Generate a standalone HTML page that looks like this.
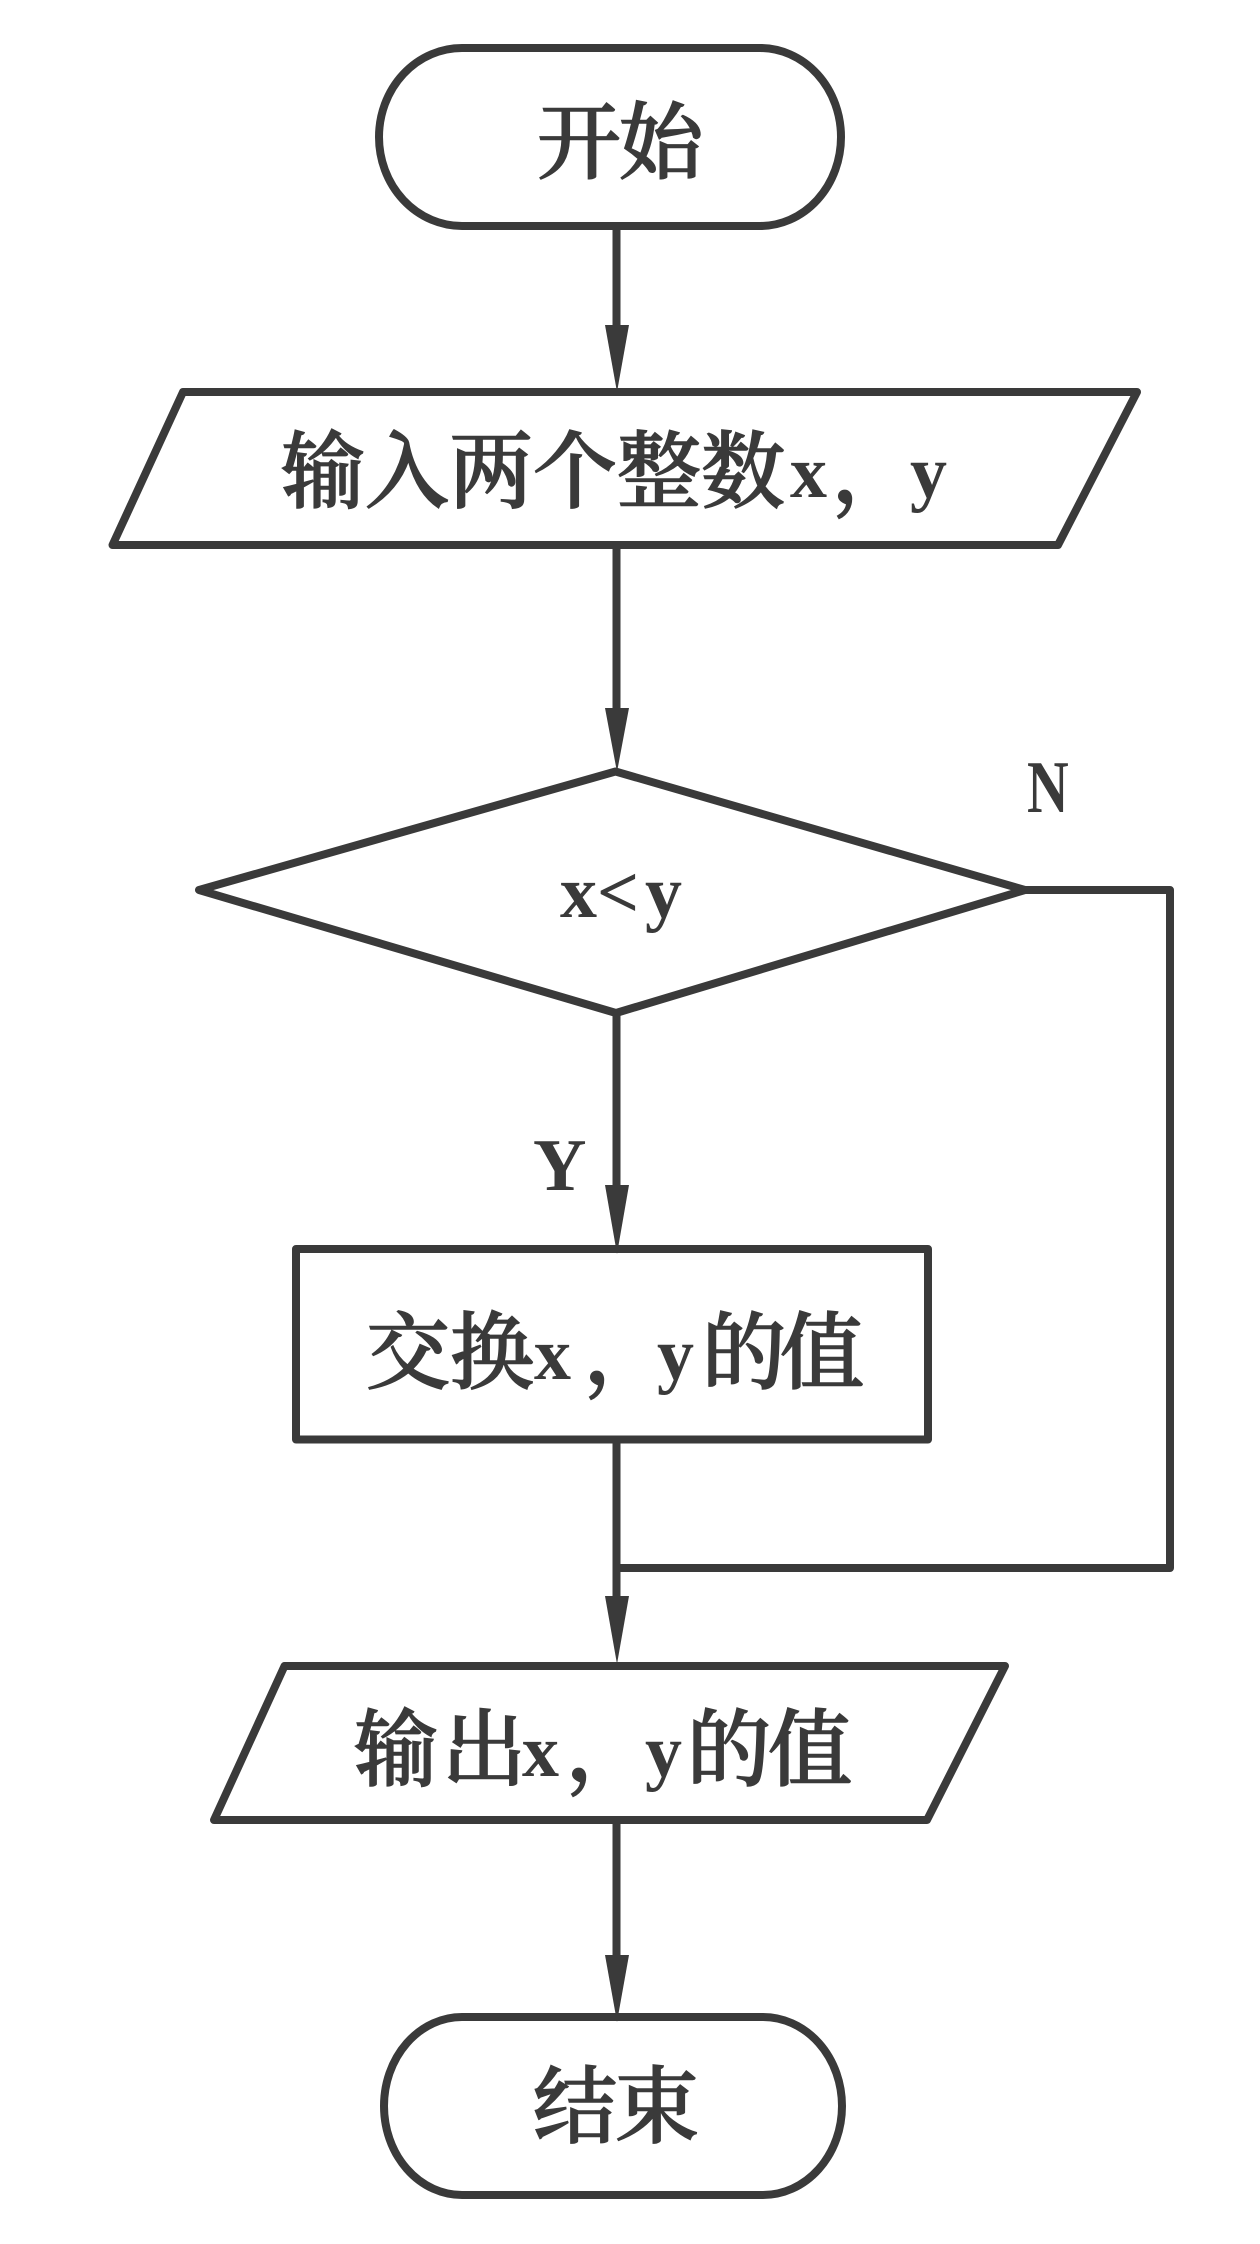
<!DOCTYPE html>
<html><head><meta charset="utf-8"><style>
html,body{margin:0;padding:0;background:#fff}
svg{display:block}
.c{font-family:"Liberation Serif","Noto Serif CJK SC",serif;font-size:84px;font-weight:500;fill:#3a3a3a;stroke:#3a3a3a;stroke-width:1.6}
.l{font-family:"Liberation Serif",serif;font-size:74px;font-weight:700;fill:#3a3a3a}
</style></head><body>
<svg width="1260" height="2244" viewBox="0 0 1260 2244" xmlns="http://www.w3.org/2000/svg">
<rect width="1260" height="2244" fill="#fff"/>
<g fill="none" stroke="#3a3a3a" stroke-width="8" stroke-linejoin="round" stroke-linecap="round">
<path d="M462 48H760A81 89 0 0 1 760 226H462A83 89 0 0 1 462 48Z"/>
<path d="M183 392H1137L1058 545H112.500Z"/>
<path d="M615.500 771.500L1025 890L616 1013L199 890Z"/>
<rect x="296" y="1249" width="632" height="190.500"/>
<path d="M284.500 1666H1005L927 1820H214Z"/>
<path d="M462 2017H763A79 89 0 0 1 763 2195H462A78 89 0 0 1 462 2017Z"/>
<path d="M1025 890H1170V1568H617"/>
<path d="M616.500 226V330M616.500 545V712M616.500 1013V1190M616.500 1440V1600M616.500 1820V1960" stroke-linecap="butt"/>
</g>
<g fill="#3a3a3a">
<path d="M605 325H629L617 392Z"/>
<path d="M605 708H629L617 772Z"/>
<path d="M605 1185H629L617 1254Z"/>
<path d="M605 1596H629L617 1664Z"/>
<path d="M605 1955H629L617 2022Z"/>
</g>
<text class="c" x="537 619" y="172">开始</text>
<text class="c" x="281 365 449 533 617 701" y="501">输入两个整数</text>
<text class="l" x="790" y="497">x</text>
<text class="c" x="832" y="501">，</text>
<text class="l" x="910" y="497">y</text>
<text class="l" x="560" y="917">x</text>
<text class="l" x="597" y="917">&lt;</text>
<text class="l" x="645" y="917">y</text>
<text class="l" transform="translate(1027 812) scale(.78 1)" x="0" y="0">N</text>
<text class="l" transform="translate(533 1190) scale(1 1)" x="0" y="0">Y</text>
<text class="c" x="366 450" y="1382">交换</text>
<text class="l" x="534" y="1379">x</text>
<text class="c" x="584" y="1382">，</text>
<text class="l" x="657" y="1379">y</text>
<text class="c" x="702 780" y="1382">的值</text>
<text class="c" x="354 442" y="1779">输出</text>
<text class="l" x="522" y="1776">x</text>
<text class="c" x="566" y="1779">，</text>
<text class="l" x="645" y="1776">y</text>
<text class="c" x="687 768" y="1779">的值</text>
<text class="c" x="533 615" y="2136">结束</text>
</svg>
</body></html>
